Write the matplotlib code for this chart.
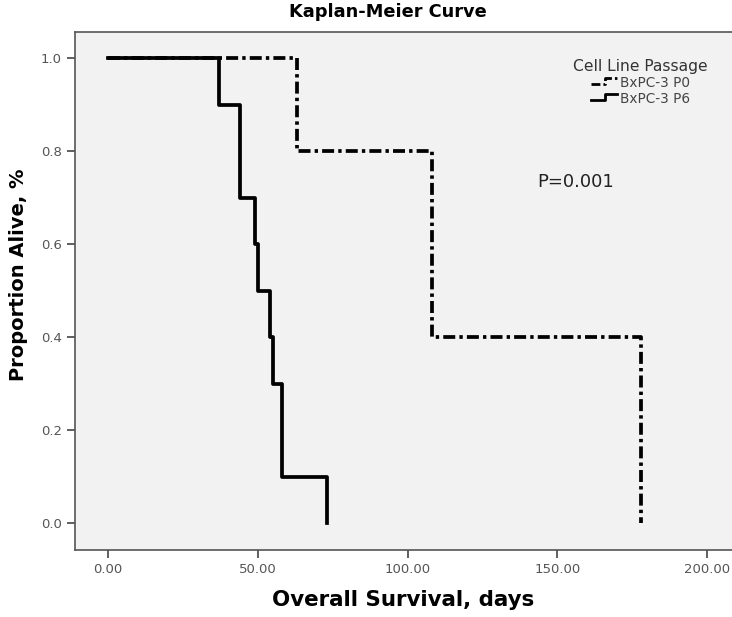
#!/usr/bin/env python3
import matplotlib
matplotlib.use("Agg")
import matplotlib.pyplot as plt
from matplotlib.legend_handler import HandlerLine2D
from matplotlib.lines import Line2D
import numpy as np

# event times (days), no censoring
p0_times = [63, 108, 108, 178, 178]
p6_times = [37, 44, 44, 49, 50, 54, 55, 58, 58, 73]
series_labels = ["BxPC-3 P0", "BxPC-3 P6"]
x_ticks = [0, 50, 100, 150, 200]
y_ticks = [0.0, 0.2, 0.4, 0.6, 0.8, 1.0]
p_text = "P=0.001"


def km_steps(times):
    # simple Kaplan-Meier estimate, all events observed
    t = np.sort(np.array(times, dtype=float))
    xs = [0.0]
    ys = [1.0]
    surv = 1.0
    at_risk = len(t)
    for u in np.unique(t):
        d = np.sum(t == u)
        surv = surv * (1 - d / at_risk)
        at_risk -= d
        xs.append(u)
        ys.append(surv)
    return np.array(xs), np.array(ys)


class StepHandler(HandlerLine2D):
    # little step glyph like the SPSS legend
    def create_artists(self, legend, orig_handle, xdescent, ydescent,
                       width, height, fontsize, trans):
        x0, x1 = -xdescent, -xdescent + width
        xm = x0 + width * 0.55
        ylo = -ydescent + height * 0.25
        yhi = -ydescent + height * 0.85
        ln = Line2D([x0, xm, xm, x1], [ylo, ylo, yhi, yhi])
        self.update_prop(ln, orig_handle, legend)
        ln.set_linewidth(2.0)
        ln.set_transform(trans)
        return [ln]


plt.rcParams['font.family'] = ['DejaVu Sans']

fig = plt.figure(figsize=(7.32, 6.17), dpi=100)
ax = fig.add_axes([0.1025, 0.1086, 0.8975, 0.8395])
ax.set_facecolor('#f2f2f2')

x0, y0 = km_steps(p0_times)
x6, y6 = km_steps(p6_times)

l0, = ax.step(x0, y0, where='post', color='black', lw=2.7,
              dashes=(3.2, 1.1, 0.9, 1.1), label=series_labels[0])
l6, = ax.step(x6, y6, where='post', color='black', lw=2.7,
              label=series_labels[1])

ax.set_xlim(-11, 208.3)
ax.set_ylim(-0.058, 1.056)
ax.set_xticks(x_ticks)
ax.set_xticklabels([f"{v:.2f}" for v in x_ticks])
ax.set_yticks(y_ticks)
ax.set_yticklabels([f"{v:.1f}" for v in y_ticks])
ax.tick_params(direction='out', length=6, width=1.2, colors='#444444',
               labelcolor='#555555', labelsize=9.5)
for s in ax.spines.values():
    s.set_color('#555555')
    s.set_linewidth(1.2)
ax.spines['right'].set_visible(False)

fig.text(388 / 732, 1 - 12 / 617, "Kaplan-Meier Curve", fontsize=12.8,
         fontweight='bold', ha='center', va='center')
ax.set_xlabel("Overall Survival, days", fontsize=15.4, fontweight='bold')
ax.set_ylabel("Proportion Alive, %", fontsize=14, fontweight='bold')
ax.xaxis.label.set_va('center')
ax.yaxis.label.set_va('center')
ax.xaxis.set_label_coords(0.5, -0.0965)
ax.yaxis.set_label_coords(-0.0868, 0.531)

ax.text(143.2, 0.733, p_text, fontsize=13, color='#222222', va='center')

leg = ax.legend(handles=[l0, l6], title="Cell Line Passage",
                loc='upper center', bbox_to_anchor=(0.861, 0.962),
                frameon=False, fontsize=9.8, title_fontsize=11.2,
                handlelength=1.9, handletextpad=0.25, labelspacing=0.15,
                borderpad=0, alignment='center',
                handler_map={Line2D: StepHandler()})
for t in leg.get_texts():
    t.set_color('#444444')
leg.get_title().set_color('#333333')

plt.savefig("out.png", dpi=100)
